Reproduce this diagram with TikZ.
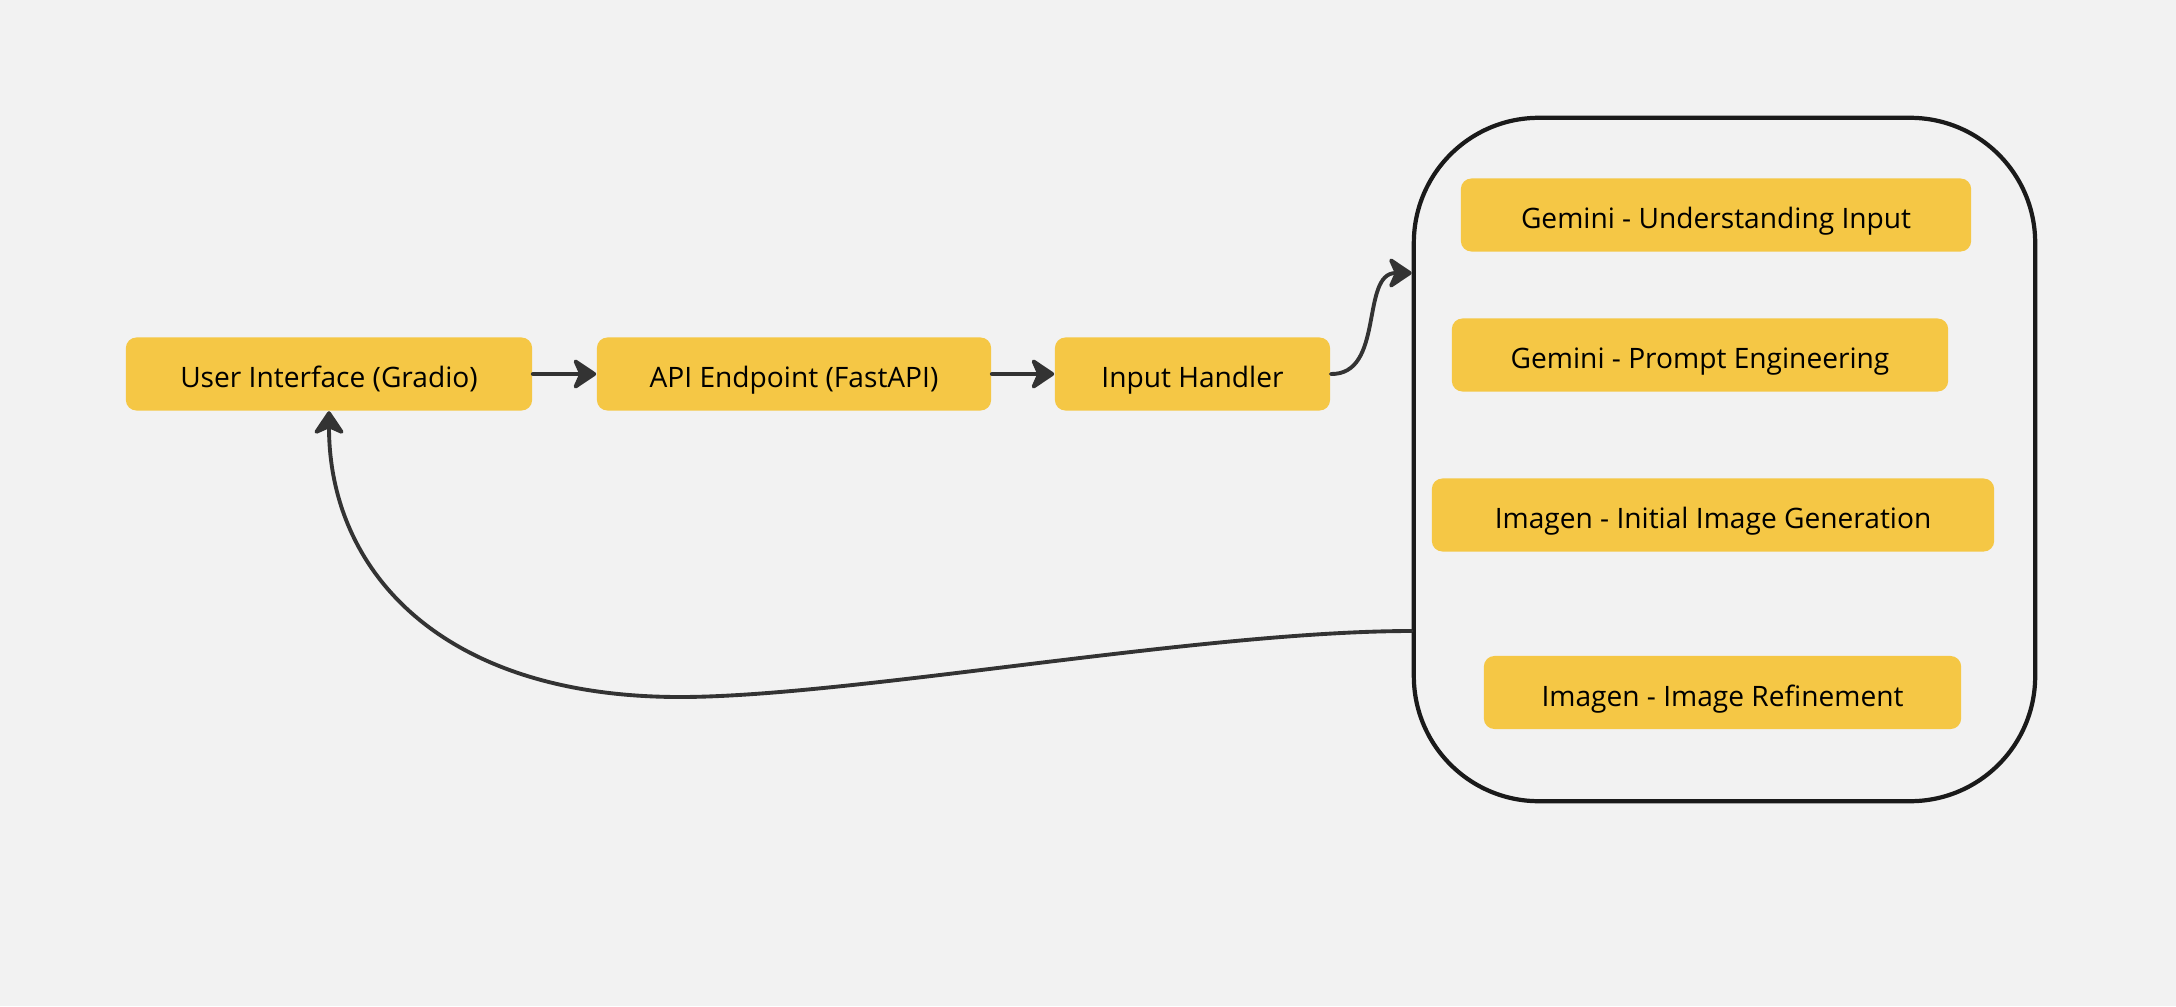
\documentclass[tikz,border=0pt]{standalone}
\usepackage{fontspec}
\setmainfont{Open Sans}
\usetikzlibrary{arrows.meta}
\definecolor{bgc}{HTML}{F2F2F2}
\definecolor{boxc}{HTML}{F5C745}
\definecolor{linec}{HTML}{333333}
\definecolor{framec}{HTML}{1A1A1A}
\begin{document}
\begin{tikzpicture}[x=0.01cm, y=-0.01cm, font=\fontsize{8}{10}\selectfont, line join=round, line cap=round,
		>={Stealth[length=7.5pt, width=10pt, inset=2.2pt, round]},
		block/.style={fill=boxc, rounded corners=3pt, minimum height=0.73cm, inner sep=0pt, text height=1.75ex, text depth=0.3ex},
		link/.style={->, draw=linec, line width=1.1pt}]
			\fill[bgc] (0,0) rectangle (2176,1006);
			\useasboundingbox (0,0) rectangle (2176,1006);
			% pipeline
			\node[block, minimum width=4.06cm] (ui) at (329,374) {User Interface (Gradio)};
			\node[block, minimum width=3.94cm] (api) at (794,374) {API Endpoint (FastAPI)};
			\node[block, minimum width=2.75cm] (handler) at (1192.5,374) {Input Handler};
			% model group
			\node[draw=framec, line width=1.2pt, rounded corners=1.25cm, minimum width=6.21cm, minimum height=6.83cm] (models) at (1724.5,459.5) {};
			\node[block, minimum width=5.10cm] (gemu) at (1716,215) {Gemini - Understanding Input};
			\node[block, minimum width=4.96cm] (gemp) at (1700,355) {Gemini - Prompt Engineering};
			\node[block, minimum width=5.62cm] (imgi) at (1713,515) {Imagen - Initial Image Generation};
			\node[block, minimum width=4.77cm] (imgr) at (1722.5,692.5) {Imagen - Image Refinement};
			\coordinate (inlet) at (models.west |- 0,273);
			\coordinate (outlet) at (models.west |- 0,631);
			% connectors
			\draw[link] (ui) -- (api);
			\draw[link] (api) -- (handler);
			\draw[link] (handler.east) .. controls (1385,375) and (1360,273) .. (inlet);
			\draw[link] (outlet) .. controls (1200,631) and (850,697) .. (680,697)
				.. controls (440,697) and (329,570) .. (ui.south);
		\end{tikzpicture}
\end{document}
